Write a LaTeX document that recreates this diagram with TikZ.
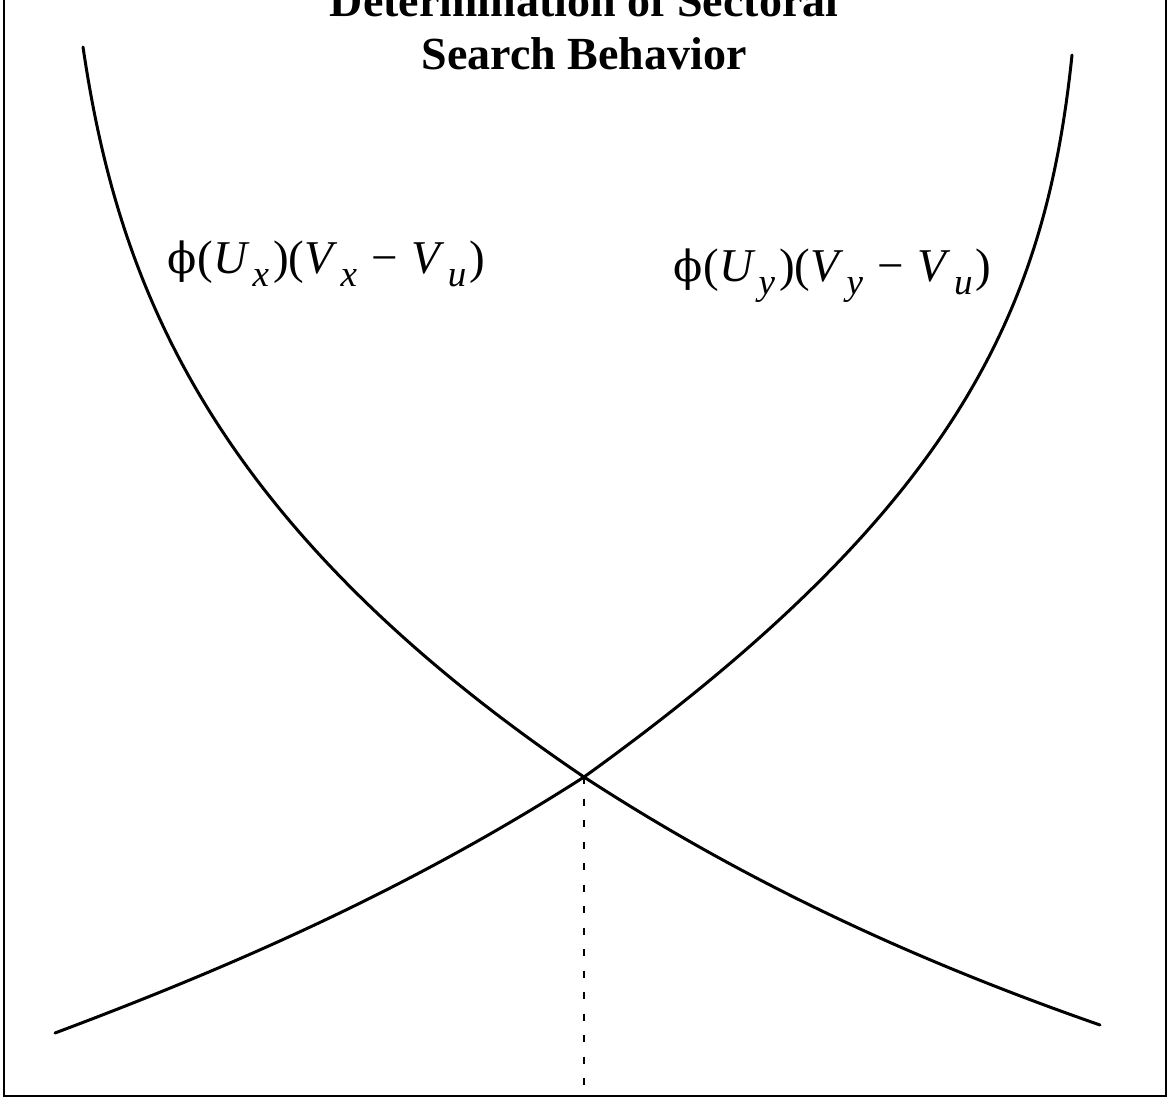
\documentclass[tikz,border=0pt]{standalone}
\usepackage{fontspec}
\setmainfont{Liberation Serif}
\newfontfamily\phifont{DejaVu Serif}
\newcommand\sbx[1]{\raisebox{-0.28em}{\fontsize{37}{37}\selectfont\textit{#1}}}
\newcommand\fsz{\fontsize{47}{47}\selectfont}
\newcommand\phisym{{\phifont\fontsize{43}{43}\selectfont ϕ}}
\tikzset{
  frame/.style={line width=2.4pt},
  curve/.style={line width=3pt, line cap=round, line join=round},
  guide/.style={line width=2pt, dash pattern=on 7pt off 14.5pt},
  titletext/.style={font=\fontsize{46}{46}\selectfont\bfseries, inner sep=0pt, anchor=base},
  formula/.style={font=\fsz, inner sep=0pt, anchor=base west}
}
\begin{document}
\begin{tikzpicture}[x=1pt,y=-1pt]
\useasboundingbox (0,0) rectangle (1169,1099);
% frame (top edge lies above the visible area)
\draw[frame] (4,-20) -- (4,1096) -- (1166,1096) -- (1166,-20);
% title
\node[titletext] (t1) at (584,17) {Determination of Sectoral};
\node[titletext] (t2) at (584,70) {Search Behavior};
% labels
\node[formula] (lx) at (167,273) {\phisym\kern1pt(\textit{U}\kern3pt\sbx{x}\kern4pt)(\textit{V}\kern3pt\sbx{x}\hspace{0.3em}−\hspace{0.3em}\textit{V}\kern3pt\sbx{u}\kern3pt)};
\node[formula] (ly) at (673,281) {\phisym\kern1pt(\textit{U}\kern3pt\sbx{y}\kern4pt)(\textit{V}\kern3pt\sbx{y}\hspace{0.3em}−\hspace{0.3em}\textit{V}\kern3pt\sbx{u}\kern3pt)};
% curves
\coordinate (cross) at (584,777);
\coordinate (foot) at (584,1096);
\coordinate (ltop) at (83,47);
\coordinate (lend) at (1100,1025);
\coordinate (rtop) at (1072,55);
\coordinate (rend) at (55,1033);
\draw[curve] (ltop) .. controls (117,277) and (204,520) .. (cross)
                    .. controls (756,889) and (928,965) .. (lend);
\draw[curve] (rend) .. controls (231,967) and (408,890) .. (cross)
                    .. controls (962,505) and (1046,305) .. (rtop);
% guide
\draw[guide] (cross) -- (foot);
\end{tikzpicture}
\end{document}
